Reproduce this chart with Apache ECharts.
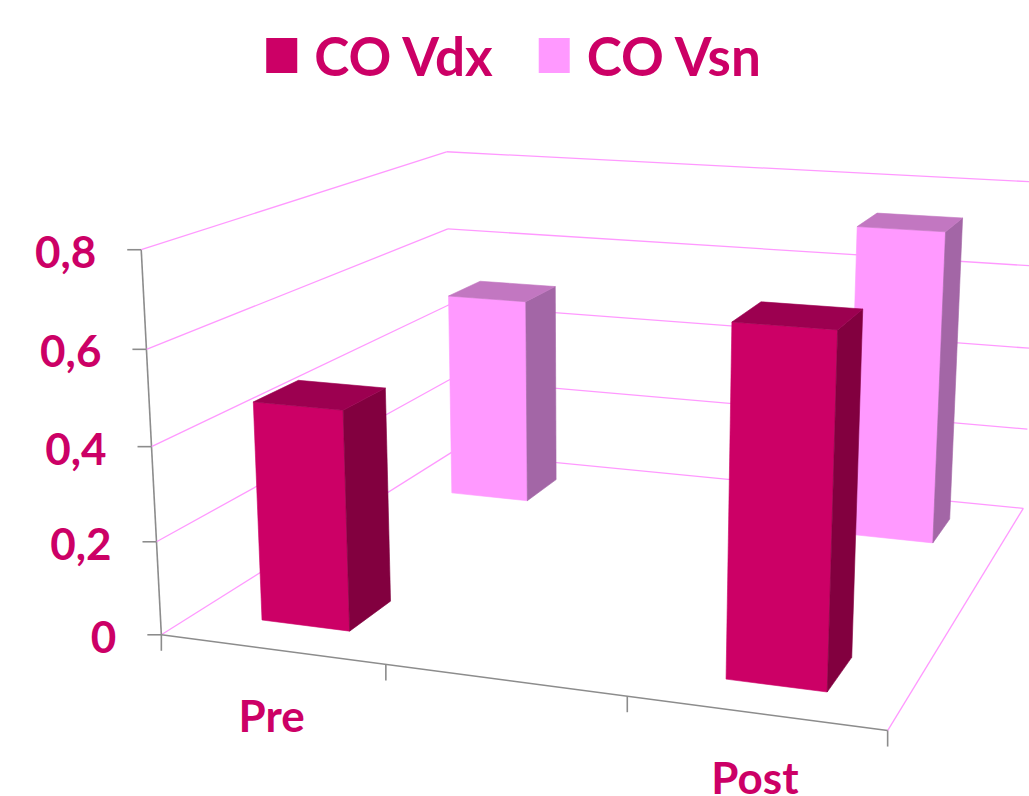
<!DOCTYPE html>
<html><head><meta charset="utf-8">
<script src="https://cdn.jsdelivr.net/npm/echarts@6/dist/echarts.min.js"></script>
<style>html,body{margin:0;padding:0;background:#fff}#c{width:1029px;height:796px}</style>
</head><body><div id="c"></div>
<script>
// ---------- data ----------
const categories = ['Pre', '', 'Post'];
const seriesNames = ['CO Vdx', 'CO Vsn'];
const vdxValues = [0.47, null, 0.71];
const vsnValues = [0.50, null, 0.73];
const yTicks = [0, 0.2, 0.4, 0.6, 0.8];
const yTickLabels = ['0', '0,2', '0,4', '0,6', '0,8'];
const yMax = 0.8;

// ---------- styles ----------
const TEXT_COLOR = '#CC0066';
const GRID_COLOR = '#FF99FF';
const AXIS_COLOR = '#8C8C8C';
const FONT = 'Lato';
const faceColors = {
  'CO Vdx': { front: '#CC0066', side: '#82003F', top: '#9C0050' },
  'CO Vsn': { front: '#FF99FF', side: '#A366A6', top: '#C277C1' }
};
const DEPTH_SLOTS = 3;           // series axis slots (front, middle, back)
const seriesSlot = { 'CO Vdx': 0, 'CO Vsn': 2 };
const BAR_FRACTION = 0.4;        // gap width / gap depth 150%

// ---------- perspective frame calibration (model u, w, h -> screen) ----------
const calib = [
  [0, 0, 0, 161.7, 634.3], [0, 0, 0.25, 156, 541.7], [0, 0, 0.5, 151.7, 446.7],
  [0, 0, 0.75, 146.7, 349], [0, 0, 1, 141, 250],
  [0, 1, 1, 446.7, 151.7], [0, 1, 0.75, 447.7, 229],
  [1, 1, 0, 1023.3, 508.3], [1, 0, 0, 887.7, 730],
  [1 / 3, 0, 0, 385.7, 665], [2 / 3, 0, 0, 627.3, 696.7]
];
function solveDLT(pts) {
  const cx = 500, cy = 450, s = 500, n = 11;
  const M = [...Array(n)].map(() => Array(n + 1).fill(0));
  const add = (row, b) => {
    for (let i = 0; i < n; i++) {
      for (let j = 0; j < n; j++) M[i][j] += row[i] * row[j];
      M[i][n] += row[i] * b;
    }
  };
  for (const [X, Y, Z, x0, y0] of pts) {
    const x = (x0 - cx) / s, y = (y0 - cy) / s;
    add([X, Y, Z, 1, 0, 0, 0, 0, -x * X, -x * Y, -x * Z], x);
    add([0, 0, 0, 0, X, Y, Z, 1, -y * X, -y * Y, -y * Z], y);
  }
  for (let c = 0; c < n; c++) {
    let p = c;
    for (let r = c + 1; r < n; r++) if (Math.abs(M[r][c]) > Math.abs(M[p][c])) p = r;
    [M[c], M[p]] = [M[p], M[c]];
    for (let r = 0; r < n; r++) {
      if (r === c) continue;
      const f = M[r][c] / M[c][c];
      for (let k = c; k <= n; k++) M[r][k] -= f * M[c][k];
    }
  }
  const P = M.map((row, i) => row[n] / row[i]);
  return (X, Y, Z) => {
    const d = P[8] * X + P[9] * Y + P[10] * Z + 1;
    return [(P[0] * X + P[1] * Y + P[2] * Z + P[3]) / d * s + cx,
            (P[4] * X + P[5] * Y + P[6] * Z + P[7]) / d * s + cy];
  };
}
const proj = solveDLT(calib);

function line(a, b, color, w) {
  return { type: 'line', shape: { x1: a[0], y1: a[1], x2: b[0], y2: b[1] },
           style: { stroke: color, lineWidth: w || 1.3 }, silent: true };
}
function poly(points, color) {
  return { type: 'polygon', shape: { points: points },
           style: { fill: color, stroke: color, lineWidth: 0.6 }, silent: true };
}
function norm(cs, p) {
  return [(p[0] - cs.x) / cs.width, (cs.y + cs.height - p[1]) / cs.height];
}

// value-axis frame: walls, gridlines, ticks, labels
function frameRender(params, api) {
  const cs = params.coordSys;
  const t = api.value(1);
  const h = norm(cs, api.coord([0, t]))[1];
  const i = params.dataIndex;
  const a = proj(0, 0, h), b = proj(0, 1, h), c = proj(1, 1, h);
  const ch = [line(a, b, GRID_COLOR), line(b, c, GRID_COLOR),
    line([a[0] - 14, a[1]], a, AXIS_COLOR, 1.6),
    { type: 'text', x: a[0] - 45, y: a[1] + 1,
      style: { text: yTickLabels[i], fill: TEXT_COLOR, font: 'bold 44px ' + FONT,
               align: 'right', verticalAlign: 'middle' }, silent: true }];
  if (i === 0) {
    ch.push(line(proj(1, 0, 0), proj(1, 1, 0), GRID_COLOR));
    ch.push(line(proj(0, 0, 0), proj(0, 0, 1), AXIS_COLOR, 1.6));
    ch.push(line(proj(0, 0, 0), proj(1, 0, 0), AXIS_COLOR, 1.6));
  }
  return { type: 'group', children: ch };
}

// category axis ticks and labels
function catRender(params, api) {
  const cs = params.coordSys;
  const i = params.dataIndex;
  const band = api.size([1, 0])[0] / cs.width;
  const uc = norm(cs, api.coord([i, 0]))[0];
  const ch = [];
  const tick = (u) => { const p = proj(u, 0, 0); ch.push(line(p, [p[0], p[1] + 16], AXIS_COLOR, 1.6)); };
  tick(uc - band / 2);
  if (i === categories.length - 1) tick(uc + band / 2);
  const lp = proj(uc, 0, 0);
  ch.push({ type: 'text', x: lp[0], y: Math.min(lp[1] + 66, 777),
    style: { text: categories[i], fill: TEXT_COLOR, font: 'bold 44px ' + FONT, lineHeight: 34,
             align: 'center', verticalAlign: 'middle' }, silent: true });
  return { type: 'group', children: ch };
}

// 3D bars
function barRender(name) {
  const col = faceColors[name];
  const slot = seriesSlot[name];
  return function (params, api) {
    const v = api.value(1);
    if (v == null || isNaN(v)) return null;
    const cs = params.coordSys;
    const top = norm(cs, api.coord([api.value(0), v]));
    const base = norm(cs, api.coord([api.value(0), 0]));
    const band = api.size([1, 0])[0] / cs.width;
    const hw = band * BAR_FRACTION / 2;
    const u0 = top[0] - hw, u1 = top[0] + hw;
    const wc = (slot + 0.5) / DEPTH_SLOTS, hd = BAR_FRACTION / DEPTH_SLOTS / 2;
    const w0 = wc - hd, w1 = wc + hd;
    const h0 = base[1], h1 = top[1];
    const front = [proj(u0, w0, h0), proj(u1, w0, h0), proj(u1, w0, h1), proj(u0, w0, h1)];
    const side = [proj(u1, w0, h0), proj(u1, w1, h0), proj(u1, w1, h1), proj(u1, w0, h1)];
    const topF = [proj(u0, w0, h1), proj(u1, w0, h1), proj(u1, w1, h1), proj(u0, w1, h1)];
    return { type: 'group', children: [poly(front, col.front), poly(side, col.side), poly(topF, col.top)] };
  };
}

const chart = echarts.init(document.getElementById('c'), null, { renderer: 'svg' });
chart.setOption({
  animation: false,
  backgroundColor: '#ffffff',
  legend: {
    data: seriesNames, top: 24, left: 'center', icon: 'rect',
    itemWidth: 31, itemHeight: 35, itemGap: 44,
    textStyle: { fontFamily: FONT, fontWeight: 'bold', fontSize: 53, color: TEXT_COLOR,
                 padding: [0, 0, 0, 12] }
  },
  grid: { left: 100, top: 100, width: 300, height: 300, show: false },
  xAxis: { type: 'category', data: categories, show: false },
  yAxis: { type: 'value', min: 0, max: yMax, interval: 0.2, show: false },
  series: [
    { type: 'custom', renderItem: frameRender, data: yTicks.map(t => [0, t]), z: 1, silent: true },
    { type: 'custom', renderItem: catRender, data: categories.map((c, i) => [i, 0]), z: 1, silent: true },
    { type: 'custom', name: 'CO Vsn', renderItem: barRender('CO Vsn'),
      itemStyle: { color: faceColors['CO Vsn'].front },
      data: vsnValues.map((v, i) => [i, v == null ? '-' : v]), encode: { x: 0, y: 1 }, z: 2 },
    { type: 'custom', name: 'CO Vdx', renderItem: barRender('CO Vdx'),
      itemStyle: { color: faceColors['CO Vdx'].front },
      data: vdxValues.map((v, i) => [i, v == null ? '-' : v]), encode: { x: 0, y: 1 }, z: 3 }
  ]
});
</script>
</body></html>
